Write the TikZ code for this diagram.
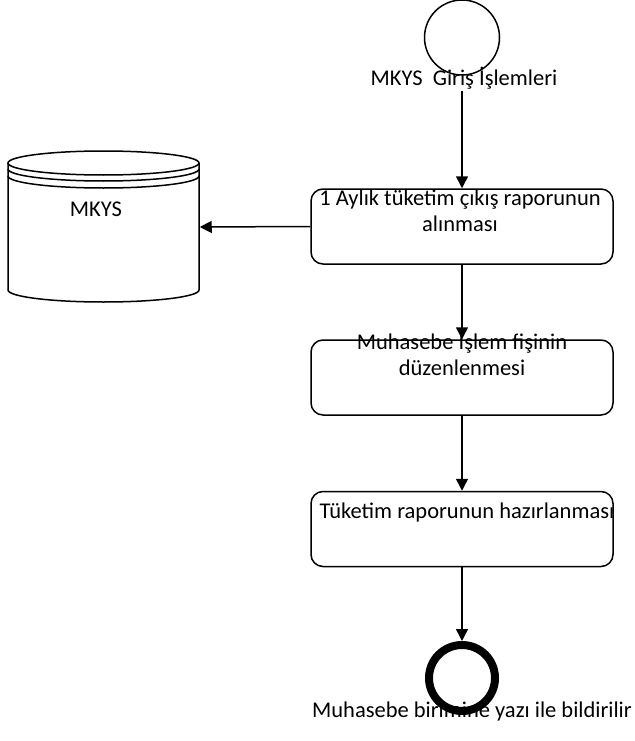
\documentclass[tikz,border=0pt]{standalone}
\usepackage{fontspec}
\setmainfont{Carlito}
\usetikzlibrary{arrows.meta}
\begin{document}
\begin{tikzpicture}[x=1pt,y=-1pt,
  line width=1.5pt,
  lbl/.style={font=\fontsize{22.5}{26}\selectfont, inner sep=0pt, align=center},
  box/.style={draw, rounded corners=12pt, minimum width=302pt, minimum height=75pt, inner sep=0pt},
  conn/.style={-{Triangle[length=12pt,width=12pt]}}
]
\useasboundingbox (0,0) rectangle (634,741);
% start
\node[draw, circle, minimum size=75pt, inner sep=0pt] (start) at (462,37.5) {};
\node[lbl, anchor=base] (startlbl) at (464,86) {MKYS\ \ Giriş İşlemleri};
% boxes
\node[box] (b1) at (462,226.5) {};
\node[lbl, anchor=base] (t1) at (460,231) {1 Aylık tüketim çıkış raporunun\\alınması};
\node[box] (b2) at (462,377.5) {};
\node[lbl, anchor=base] (t2) at (462,375) {Muhasebe İşlem fişinin\\düzenlenmesi};
\node[box] (b3) at (462,529) {};
\node[lbl, anchor=base] (t3) at (467,518) {Tüketim raporunun hazırlanması};
% end
\node[draw, circle, line width=8pt, minimum size=66pt, inner sep=0pt] (end) at (462,678) {};
\node[lbl, anchor=base] (endlbl) at (472,717) {Muhasebe birimine yazı ile bildirilir};
% database
\node[minimum width=191pt, minimum height=152pt, inner sep=0pt] (db) at (103.5,227) {};
\draw (8,163) -- (8,290) arc[start angle=180, end angle=360, x radius=95.5pt, y radius=12pt] -- (199,163);
\draw (103.5,163) ellipse[x radius=95.5pt, y radius=12pt];
\draw (8,169) arc[start angle=180, end angle=360, x radius=95.5pt, y radius=12pt];
\draw (8,176) arc[start angle=180, end angle=360, x radius=95.5pt, y radius=12pt];
\node[lbl, anchor=base] (dblbl) at (96,216) {MKYS};
% connectors
\draw[conn] (b1.north |- startlbl.south) -- (b1.north);
\draw[conn] (b1.west) -- (db.east);
\draw[conn] (b1.south) -- (b2.north);
\draw[conn] (b2.south) -- (b3.north);
\draw[conn] (b3.south) -- (end.north);
\end{tikzpicture}
\end{document}
